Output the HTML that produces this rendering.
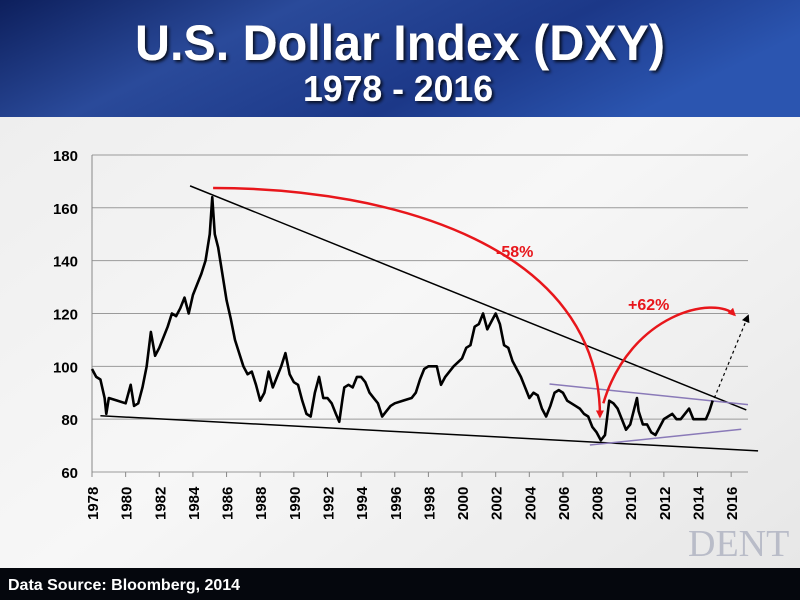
<!DOCTYPE html>
<html><head><meta charset="utf-8"><style>
html,body{margin:0;padding:0;width:800px;height:600px;overflow:hidden;font-family:"Liberation Sans",sans-serif}
</style></head><body>
<svg id="chart" width="800" height="600" xmlns="http://www.w3.org/2000/svg">
<defs>
<linearGradient id="hdr" x1="0" y1="0" x2="1" y2="0.3">
<stop offset="0" stop-color="#0d1f5c"/><stop offset="0.35" stop-color="#2a4a9a"/><stop offset="0.7" stop-color="#1c3888"/><stop offset="1" stop-color="#2b55b0"/></linearGradient>
<linearGradient id="bg" x1="0" y1="0" x2="1" y2="1">
<stop offset="0" stop-color="#ececec"/><stop offset="0.5" stop-color="#f7f7f7"/><stop offset="1" stop-color="#e6e6e6"/></linearGradient>
<filter id="sh"><feDropShadow dx="2" dy="2" stdDeviation="1.5" flood-color="#000" flood-opacity="0.8"/></filter>
<marker id="ar" markerWidth="8" markerHeight="8" refX="6" refY="4" orient="auto" markerUnits="userSpaceOnUse"><path d="M0,0 L8,4 L0,8 z" fill="#e8161b"/></marker>
<marker id="ak" markerWidth="8" markerHeight="8" refX="6" refY="4" orient="auto" markerUnits="userSpaceOnUse"><path d="M0,0 L8,4 L0,8 z" fill="#000"/></marker>
</defs>
<rect x="0" y="0" width="800" height="600" fill="url(#bg)"/>
<rect x="0" y="0" width="800" height="117" fill="url(#hdr)"/>
<text x="135" y="60" textLength="530" lengthAdjust="spacingAndGlyphs" font-size="50" font-weight="bold" fill="#fff" filter="url(#sh)">U.S. Dollar Index (DXY)</text>
<text x="303" y="101" textLength="190" lengthAdjust="spacingAndGlyphs" font-size="36" font-weight="bold" fill="#fff" filter="url(#sh)">1978 - 2016</text>
<g id="grid"></g><g id="axes"></g><g id="series"></g><g id="notes"></g>
<text x="688" y="556" font-family="Liberation Serif,serif" font-size="38" fill="#b9bcc8">DENT</text>
<rect x="0" y="568" width="800" height="32" fill="#05070d"/>
<text x="8" y="590" font-size="16" font-weight="bold" fill="#fff">Data Source: Bloomberg, 2014</text>
</svg>
<script>
const yTicks=[60,80,100,120,140,160,180];
const xTicks=[1978,1980,1982,1984,1986,1988,1990,1992,1994,1996,1998,2000,2002,2004,2006,2008,2010,2012,2014,2016];
const years=[1978,1978.25,1978.5,1978.75,1978.85,1979,1979.5,1980,1980.3,1980.5,1980.75,1981,1981.25,1981.5,1981.75,1982,1982.5,1982.75,1983,1983.25,1983.5,1983.75,1984,1984.25,1984.5,1984.75,1985,1985.15,1985.3,1985.5,1985.75,1986,1986.25,1986.5,1986.75,1987,1987.25,1987.5,1987.75,1988,1988.25,1988.5,1988.75,1989,1989.25,1989.5,1989.75,1990,1990.25,1990.5,1990.75,1991,1991.25,1991.5,1991.75,1992,1992.25,1992.5,1992.7,1992.9,1993,1993.25,1993.5,1993.75,1994,1994.25,1994.5,1994.75,1995,1995.25,1995.5,1995.75,1996,1996.5,1997,1997.25,1997.5,1997.75,1998,1998.5,1998.75,1999,1999.5,2000,2000.25,2000.5,2000.75,2001,2001.25,2001.5,2001.75,2002,2002.25,2002.5,2002.75,2003,2003.25,2003.5,2003.75,2004,2004.25,2004.5,2004.75,2005,2005.25,2005.5,2005.75,2006,2006.25,2006.5,2006.75,2007,2007.25,2007.5,2007.75,2008,2008.25,2008.5,2008.75,2009,2009.25,2009.5,2009.75,2010,2010.4,2010.5,2010.75,2011,2011.25,2011.5,2011.75,2012,2012.5,2012.75,2013,2013.5,2013.75,2014,2014.5,2014.7,2014.9];
const dxy=[99,96,95,88,82,88,87,86,93,85,86,92,100,113,104,107,115,120,119,122,126,120,127,131,135,140,150,164,150,145,135,125,118,110,105,100,97,98,93,87,90,98,92,96,100,105,97,94,93,87,82,81,90,96,88,88,86,82,79,88,92,93,92,96,96,94,90,88,86,81,83,85,86,87,88,90,95,99,100,100,93,96,100,103,107,108,115,116,120,114,117,120,116,108,107,102,99,96,92,88,90,89,84,81,85,90,91,90,87,86,85,84,82,81,77,75,72,74,87,86,84,80,76,78,88,83,78,78,75,74,77,80,82,80,80,84,80,80,80,83,87];
const trendUpper=[[1983.83,168.3],[2016.9,83.5]];
const trendLower=[[1978.5,81.3],[2017.6,68]];
const channelUpper=[[2005.2,93.3],[2017.0,85.5]];
const channelLower=[[2007.6,70.2],[2016.6,76.2]];
const X0=92,PX=16.82,Y0=472,PY=2.642;
const xs=v=>X0+(v-1978)*PX, ys=v=>Y0-(v-60)*PY;
const NS="http://www.w3.org/2000/svg";
function mk(t,a,p){const e=document.createElementNS(NS,t);for(const k in a)e.setAttribute(k,a[k]);document.getElementById(p).appendChild(e);return e;}
yTicks.forEach(v=>{
 const g=mk('line',{x1:xs(1978),x2:748,y1:ys(v),y2:ys(v),stroke:'#9a9a9a','stroke-width':1},'grid');
 
 
 const t=mk('text',{x:78,y:ys(v)+6,'text-anchor':'end','font-size':15,'font-weight':'bold',fill:'#000'},'axes');
 t.textContent=v;
 
 
});
const ya=mk('line',{x1:X0,x2:X0,y1:ys(180),y2:ys(60),stroke:'#888'},'axes');


xTicks.forEach(v=>{
 const tk=mk('line',{x1:xs(v),x2:xs(v),y1:Y0,y2:Y0+5,stroke:'#888'},'axes');
 
 
 const t=mk('text',{x:0,y:0,transform:`translate(${xs(v)+6},${Y0+48}) rotate(-90)`,'font-size':15,'font-weight':'bold',fill:'#000'},'axes');
 t.textContent=v;
 
 
});
const seg=(p,c,w,n)=>{const l=mk('line',{x1:xs(p[0][0]),y1:ys(p[0][1]),x2:xs(p[1][0]),y2:ys(p[1][1]),stroke:c,'stroke-width':w},'series');
 
 };
seg(trendUpper,'#000',1.5,'upper-trendline');
seg(trendLower,'#000',1.5,'lower-trendline');
seg(channelUpper,'#8a7ab8',1.5,'channel-upper');
seg(channelLower,'#8a7ab8',1.5,'channel-lower');
const path=mk('polyline',{points:years.map((y,i)=>xs(y)+','+ys(dxy[i])).join(' '),fill:'none',stroke:'#000','stroke-width':2.6,'stroke-linejoin':'round'},'series');


const a1=mk('path',{d:`M${xs(1985.2)},${ys(167.5)} C${xs(1996)},${ys(167.5)} ${xs(2008.2)},${ys(145)} ${xs(2008.2)},${ys(81)}`,fill:'none',stroke:'#e8161b','stroke-width':2.5,'marker-end':'url(#ar)'},'notes');


const a2=mk('path',{d:`M${xs(2008.4)},${ys(86)} C${xs(2010)},${ys(120)} ${xs(2015)},${ys(127)} ${xs(2016.2)},${ys(119.5)}`,fill:'none',stroke:'#e8161b','stroke-width':2.5,'marker-end':'url(#ar)'},'notes');


const a3=mk('line',{x1:xs(2015),y1:ys(88),x2:xs(2017),y2:ys(119),stroke:'#000','stroke-width':1.2,'stroke-dasharray':'3,3','marker-end':'url(#ak)'},'notes');


const l1=mk('text',{x:496,y:257,'font-size':16,'font-weight':'bold',fill:'#e8161b'},'notes');
l1.textContent='-58%';


const l2=mk('text',{x:628,y:310,'font-size':16,'font-weight':'bold',fill:'#e8161b'},'notes');
l2.textContent='+62%';


</script>
</body></html>
